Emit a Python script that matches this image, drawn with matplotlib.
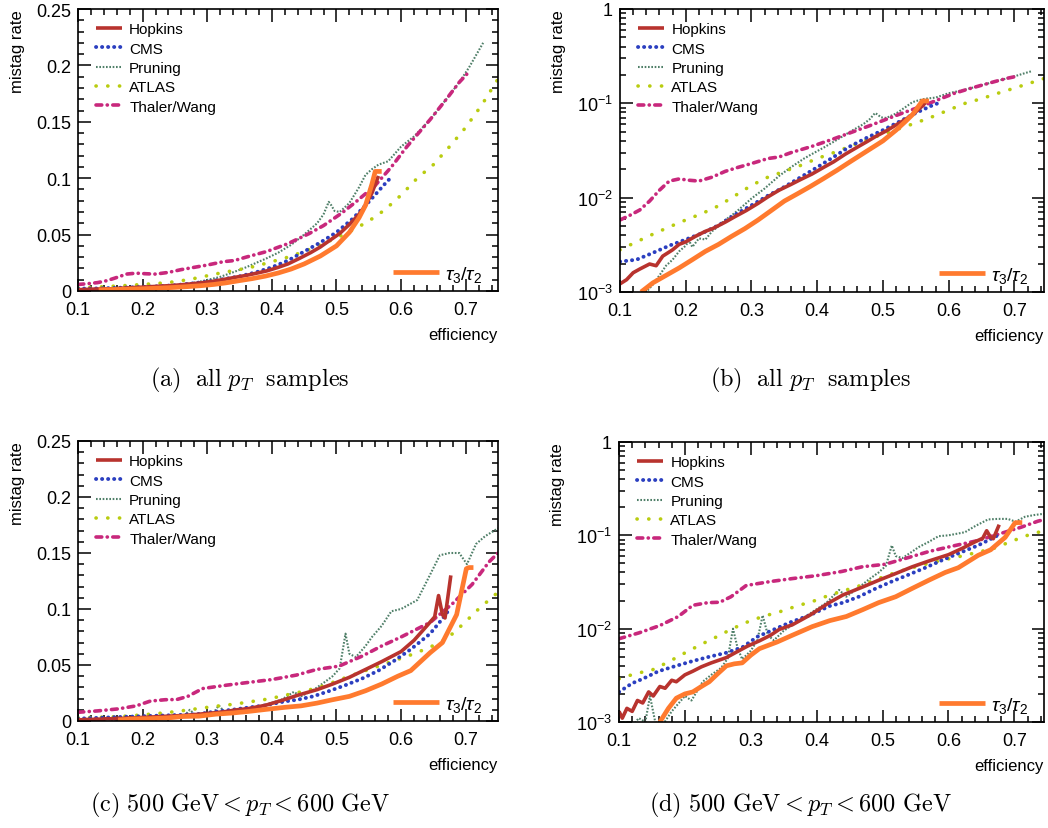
import math
import matplotlib
matplotlib.use("Agg")
import matplotlib.pyplot as plt
from matplotlib.ticker import MultipleLocator, FixedLocator, FuncFormatter, LogLocator, NullFormatter
from matplotlib.lines import Line2D

plt.rcParams['font.family'] = ['Liberation Sans', 'DejaVu Sans']
plt.rcParams['mathtext.fontset'] = 'custom'
plt.rcParams['mathtext.rm'] = 'Liberation Sans'
plt.rcParams['mathtext.it'] = 'Liberation Sans:italic'

# ---- all pT samples ----
hop_x_all = [0.1, 0.11, 0.12, 0.13, 0.145, 0.155, 0.165, 0.18, 0.19, 0.2, 0.215, 0.23, 0.241, 0.26,
             0.275, 0.292, 0.31, 0.325, 0.342, 0.36, 0.375, 0.392, 0.41, 0.425, 0.443, 0.46, 0.475,
             0.49, 0.505, 0.52, 0.535, 0.545, 0.555, 0.565]
hop_y_all = [0.00122, 0.00135, 0.0016, 0.00175, 0.00198, 0.0019, 0.0024, 0.0028, 0.0032, 0.0034,
             0.0039, 0.0044, 0.0047, 0.0055, 0.0063, 0.0073, 0.0087, 0.0102, 0.012, 0.0138, 0.0156,
             0.0178, 0.021, 0.024, 0.029, 0.034, 0.039, 0.045, 0.051, 0.059, 0.068, 0.076, 0.087, 0.102]

cms_x_all = [0.1, 0.125, 0.15, 0.175, 0.2, 0.225, 0.25, 0.275, 0.3, 0.325, 0.35, 0.375, 0.4, 0.425,
             0.45, 0.475, 0.5, 0.525, 0.55, 0.575, 0.585]
cms_y_all = [0.0021, 0.0022, 0.0026, 0.0031, 0.0036, 0.0042, 0.0051, 0.0066, 0.0083, 0.0105, 0.013,
             0.0165, 0.021, 0.027, 0.035, 0.043, 0.052, 0.064, 0.079, 0.095, 0.101]

prun_x_all = [0.13, 0.14, 0.15, 0.16, 0.17, 0.18, 0.19, 0.2, 0.205, 0.21, 0.22, 0.23, 0.24, 0.25,
              0.26, 0.27, 0.28, 0.29, 0.3, 0.32, 0.342, 0.36, 0.38, 0.392, 0.41, 0.43, 0.45, 0.47,
              0.48, 0.488, 0.492, 0.497, 0.505, 0.52, 0.535, 0.545, 0.555, 0.565, 0.58, 0.6, 0.62,
              0.645, 0.67, 0.69, 0.705, 0.717, 0.727]
prun_y_all = [0.0009, 0.001, 0.0012, 0.0015, 0.0019, 0.0022, 0.0027, 0.0031, 0.0035, 0.003, 0.0037,
              0.0036, 0.0044, 0.005, 0.0058, 0.0065, 0.0074, 0.0085, 0.0098, 0.0125, 0.017, 0.021,
              0.026, 0.029, 0.034, 0.041, 0.05, 0.06, 0.068, 0.079, 0.076, 0.071, 0.07, 0.078, 0.092,
              0.103, 0.108, 0.112, 0.115, 0.128, 0.137, 0.152, 0.17, 0.185, 0.198, 0.21, 0.22]

atl_x_all = [0.1, 0.125, 0.15, 0.175, 0.2, 0.225, 0.25, 0.275, 0.3, 0.325, 0.35, 0.375, 0.4, 0.425,
             0.45, 0.475, 0.5, 0.525, 0.55, 0.575, 0.6, 0.625, 0.65, 0.675, 0.7, 0.725, 0.75]
atl_y_all = [0.0028, 0.0034, 0.0041, 0.0049, 0.0058, 0.0068, 0.0082, 0.0105, 0.0135, 0.0165, 0.019,
             0.022, 0.026, 0.03, 0.035, 0.041, 0.047, 0.054, 0.062, 0.072, 0.085, 0.1, 0.112, 0.128,
             0.145, 0.165, 0.188]

tw_x_all = [0.1, 0.115, 0.13, 0.145, 0.16, 0.175, 0.19, 0.205, 0.22, 0.24, 0.26, 0.28, 0.3, 0.325,
            0.342, 0.36, 0.392, 0.425, 0.458, 0.48, 0.508, 0.53, 0.559, 0.585, 0.609, 0.63, 0.645,
            0.67, 0.69, 0.703]
tw_y_all = [0.0058, 0.0065, 0.0074, 0.0092, 0.012, 0.015, 0.0158, 0.0153, 0.015, 0.0165, 0.019,
            0.021, 0.023, 0.026, 0.027, 0.03, 0.035, 0.042, 0.051, 0.058, 0.069, 0.079, 0.093, 0.11,
            0.128, 0.142, 0.152, 0.17, 0.185, 0.193]

tau_x_all = [0.132, 0.15, 0.17, 0.19, 0.21, 0.23, 0.25, 0.27, 0.29, 0.31, 0.33, 0.35, 0.37, 0.39,
             0.41, 0.43, 0.45, 0.475, 0.5, 0.52, 0.535, 0.545, 0.555, 0.56, 0.57]
tau_y_all = [0.001, 0.00125, 0.0015, 0.0018, 0.0022, 0.0027, 0.0032, 0.0039, 0.0047, 0.0058, 0.0073,
             0.0092, 0.011, 0.0132, 0.016, 0.0195, 0.024, 0.031, 0.04, 0.052, 0.065, 0.076, 0.095,
             0.106, 0.106]

# ---- 500 GeV < pT < 600 GeV ----
hop_x_sel = [0.1, 0.105, 0.112, 0.12, 0.128, 0.136, 0.145, 0.152, 0.162, 0.17, 0.18, 0.187, 0.2,
             0.212, 0.225, 0.24, 0.263, 0.28, 0.295, 0.313, 0.33, 0.343, 0.363, 0.39, 0.419, 0.44,
             0.47, 0.494, 0.52, 0.545, 0.57, 0.6, 0.62, 0.64, 0.652, 0.658, 0.664, 0.668, 0.677]
hop_y_sel = [0.0013, 0.0011, 0.0014, 0.0013, 0.0017, 0.0016, 0.0021, 0.0019, 0.0024, 0.0023, 0.0028,
             0.0027, 0.0032, 0.0035, 0.0039, 0.0043, 0.0049, 0.0057, 0.0065, 0.0074, 0.0085, 0.0098,
             0.011, 0.014, 0.019, 0.023, 0.028, 0.033, 0.039, 0.046, 0.053, 0.062, 0.072, 0.085,
             0.093, 0.112, 0.095, 0.092, 0.13]

cms_x_sel = [0.1, 0.12, 0.136, 0.16, 0.187, 0.212, 0.237, 0.262, 0.287, 0.31, 0.338, 0.36, 0.389,
             0.42, 0.44, 0.464, 0.49, 0.514, 0.54, 0.565, 0.59, 0.615, 0.645, 0.665, 0.675]
cms_y_sel = [0.0021, 0.0026, 0.0029, 0.0035, 0.004, 0.0045, 0.005, 0.0055, 0.0063, 0.0082, 0.01,
             0.0117, 0.0139, 0.0175, 0.019, 0.022, 0.027, 0.032, 0.038, 0.045, 0.054, 0.064, 0.078,
             0.092, 0.1]

prun_x_sel = [0.1, 0.11, 0.12, 0.13, 0.14, 0.147, 0.155, 0.165, 0.18, 0.2, 0.21, 0.227, 0.24, 0.255,
              0.265, 0.273, 0.28, 0.287, 0.3, 0.31, 0.318, 0.326, 0.335, 0.35, 0.37, 0.393, 0.415,
              0.434, 0.445, 0.465, 0.48, 0.494, 0.505, 0.514, 0.52, 0.53, 0.545, 0.555, 0.57, 0.585,
              0.6, 0.625, 0.64, 0.66, 0.675, 0.69, 0.702, 0.716, 0.73, 0.75]
prun_y_sel = [0.0008, 0.001, 0.0009, 0.0011, 0.001, 0.0019, 0.001, 0.0009, 0.0013, 0.0019, 0.0017,
              0.0027, 0.0032, 0.0038, 0.0048, 0.01, 0.0062, 0.0047, 0.0058, 0.0075, 0.0139, 0.0085,
              0.0075, 0.0095, 0.0118, 0.015, 0.019, 0.026, 0.022, 0.028, 0.034, 0.04, 0.047, 0.078,
              0.06, 0.057, 0.067, 0.075, 0.085, 0.098, 0.1, 0.108, 0.125, 0.148, 0.15, 0.15, 0.14,
              0.158, 0.165, 0.172]

atl_x_sel = [0.1, 0.125, 0.15, 0.175, 0.2, 0.225, 0.25, 0.272, 0.295, 0.318, 0.343, 0.37, 0.395,
             0.419, 0.445, 0.47, 0.494, 0.52, 0.545, 0.57, 0.595, 0.62, 0.645, 0.67, 0.695, 0.72,
             0.75]
atl_y_sel = [0.0029, 0.0033, 0.0036, 0.0044, 0.0055, 0.0068, 0.0083, 0.01, 0.0118, 0.0135, 0.0151,
             0.0175, 0.0197, 0.0228, 0.026, 0.0295, 0.0344, 0.04, 0.045, 0.05, 0.055, 0.06, 0.066,
             0.073, 0.086, 0.1, 0.115]

tw_x_sel = [0.1, 0.13, 0.162, 0.19, 0.212, 0.235, 0.253, 0.27, 0.293, 0.33, 0.363, 0.4, 0.438, 0.469,
            0.504, 0.54, 0.57, 0.6, 0.645, 0.68, 0.71, 0.736, 0.75]
tw_y_sel = [0.0078, 0.009, 0.0108, 0.0135, 0.0178, 0.019, 0.0192, 0.022, 0.029, 0.032, 0.0344, 0.037,
            0.041, 0.046, 0.049, 0.058, 0.067, 0.075, 0.088, 0.105, 0.122, 0.142, 0.15]

tau_x_sel = [0.162, 0.175, 0.187, 0.2, 0.212, 0.225, 0.237, 0.25, 0.263, 0.275, 0.287, 0.3, 0.313,
             0.34, 0.363, 0.393, 0.42, 0.445, 0.47, 0.494, 0.52, 0.545, 0.57, 0.595, 0.615, 0.645,
             0.664, 0.686, 0.701, 0.705, 0.712]
tau_y_sel = [0.001, 0.0014, 0.0018, 0.002, 0.0021, 0.0024, 0.0027, 0.0033, 0.004, 0.0042, 0.0043,
             0.0052, 0.0061, 0.0072, 0.0085, 0.0105, 0.0122, 0.0135, 0.016, 0.019, 0.022, 0.027,
             0.033, 0.04, 0.045, 0.061, 0.07, 0.095, 0.136, 0.137, 0.137]

labels = ['Hopkins', 'CMS', 'Pruning', 'ATLAS', 'Thaler/Wang']
captions = [r'$\mathrm{(a)\ \ all\ }p_T\mathrm{\ \ samples}$',
            r'$\mathrm{(b)\ \ all\ }p_T\mathrm{\ \ samples}$',
            r'$\mathrm{(c)\ 500\ GeV} < p_T < \mathrm{600\ GeV}$',
            r'$\mathrm{(d)\ 500\ GeV} < p_T < \mathrm{600\ GeV}$']

# line styles for each tagger (dots use round caps on near-zero dashes)
styles = {
    'Hopkins': dict(color='#b8332e', lw=2.6, ls='-', cap='butt'),
    'CMS': dict(color='#2b3fc0', lw=2.8, ls=(0, (0.05, 1.5)), cap='round'),
    'Pruning': dict(color='#4f7f68', lw=1.5, ls=(0, (0.8, 0.8)), cap='butt'),
    'ATLAS': dict(color='#b9cc10', lw=2.6, ls=(0, (0.05, 3.2)), cap='round'),
    'Thaler/Wang': dict(color='#c8287c', lw=2.6, ls=(0, (1.6, 1.5, 0.05, 1.5)), cap='round'),
    'tau': dict(color='#ff7a2e', lw=3.4, ls='-', cap='butt'),
}

rows = [
    [(hop_x_all, hop_y_all), (cms_x_all, cms_y_all), (prun_x_all, prun_y_all),
     (atl_x_all, atl_y_all), (tw_x_all, tw_y_all), (tau_x_all, tau_y_all)],
    [(hop_x_sel, hop_y_sel), (cms_x_sel, cms_y_sel), (prun_x_sel, prun_y_sel),
     (atl_x_sel, atl_y_sel), (tw_x_sel, tw_y_sel), (tau_x_sel, tau_y_sel)],
]

fig = plt.figure(figsize=(10.48, 8.29), dpi=100)
W, H = 1048.0, 829.0
boxes = [(78, 10, 498, 292), (620, 10, 1044, 293), (78, 442, 498, 722), (619, 443, 1044, 723)]
cap_pos = [(250, 380), (810, 380), (240, 805), (800, 805)]


def log_fmt(v, pos):
    if abs(v - 1) < 1e-9:
        return '1'
    return r'$10^{%d}$' % round(math.log10(v))


def make_line(st, label=None):
    return Line2D([], [], color=st['color'], lw=st['lw'], ls=st['ls'],
                  dash_capstyle=st['cap'], solid_capstyle='butt', label=label)


for i, (l, t, r, b) in enumerate(boxes):
    ax = fig.add_axes([l / W, 1 - b / H, (r - l) / W, (b - t) / H])
    data = rows[i // 2]
    logy = (i % 2 == 1)
    order = [2, 3, 4, 1, 0, 5]  # pruning underneath, tau on top
    for k in order:
        x, y = data[k]
        st = styles[labels[k] if k < 5 else 'tau']
        ax.plot(x, y, color=st['color'], lw=st['lw'], ls=st['ls'],
                solid_capstyle='butt', dash_capstyle=st['cap'])
    handles = [make_line(styles[n], n) for n in labels]
    tau_h = make_line(styles['tau'], r'$\tau_3/\tau_2$')

    if logy:
        ax.set_yscale('log')
        ax.set_ylim(1e-3, 1)
        ax.set_xlim(0.1, 0.745)
        ax.yaxis.set_major_locator(FixedLocator([1e-3, 1e-2, 1e-1, 1]))
        ax.yaxis.set_major_formatter(FuncFormatter(log_fmt))
        ax.yaxis.set_minor_locator(LogLocator(base=10, subs=range(2, 10), numticks=20))
        ax.yaxis.set_minor_formatter(NullFormatter())
    else:
        ax.set_ylim(0, 0.25)
        ax.set_xlim(0.1, 0.75)
        ax.yaxis.set_major_locator(MultipleLocator(0.05))
        ax.yaxis.set_minor_locator(MultipleLocator(0.01))
        ax.yaxis.set_major_formatter(FuncFormatter(lambda v, p: '%g' % round(v, 3)))
    ax.xaxis.set_major_locator(MultipleLocator(0.1))
    ax.xaxis.set_minor_locator(MultipleLocator(0.02))
    ax.xaxis.set_major_formatter(FuncFormatter(lambda v, p: '%g' % round(v, 3)))

    ax.tick_params(which='both', direction='in', top=True, right=True, labelsize=13, width=1.1)
    ax.tick_params(which='major', length=9)
    ax.tick_params(which='minor', length=4.5)
    ax.tick_params(axis='x', which='major', pad=7)
    ax.tick_params(axis='y', which='major', pad=5)
    for s in ax.spines.values():
        s.set_linewidth(1.2)

    ax.set_ylabel('mistag rate', loc='top', fontsize=12, labelpad=8)
    ax.set_xlabel('efficiency', loc='right', fontsize=12, labelpad=7)

    leg = ax.legend(handles=handles, loc='upper left', bbox_to_anchor=(0.02, 0.985), frameon=False,
                    fontsize=11, handlelength=1.7, handletextpad=0.5, labelspacing=0.35,
                    borderaxespad=0.2)
    ax.add_artist(leg)
    ax.legend(handles=[tau_h], loc='lower right', bbox_to_anchor=(0.99, -0.015), frameon=False,
              fontsize=14, handlelength=2.4, handletextpad=0.3, borderaxespad=0.2)

    cx, cy = cap_pos[i]
    fig.text(cx / W, 1 - cy / H, captions[i], ha='center', va='center', fontsize=17.5,
             math_fontfamily='cm')

fig.savefig('out.png', dpi=100)
